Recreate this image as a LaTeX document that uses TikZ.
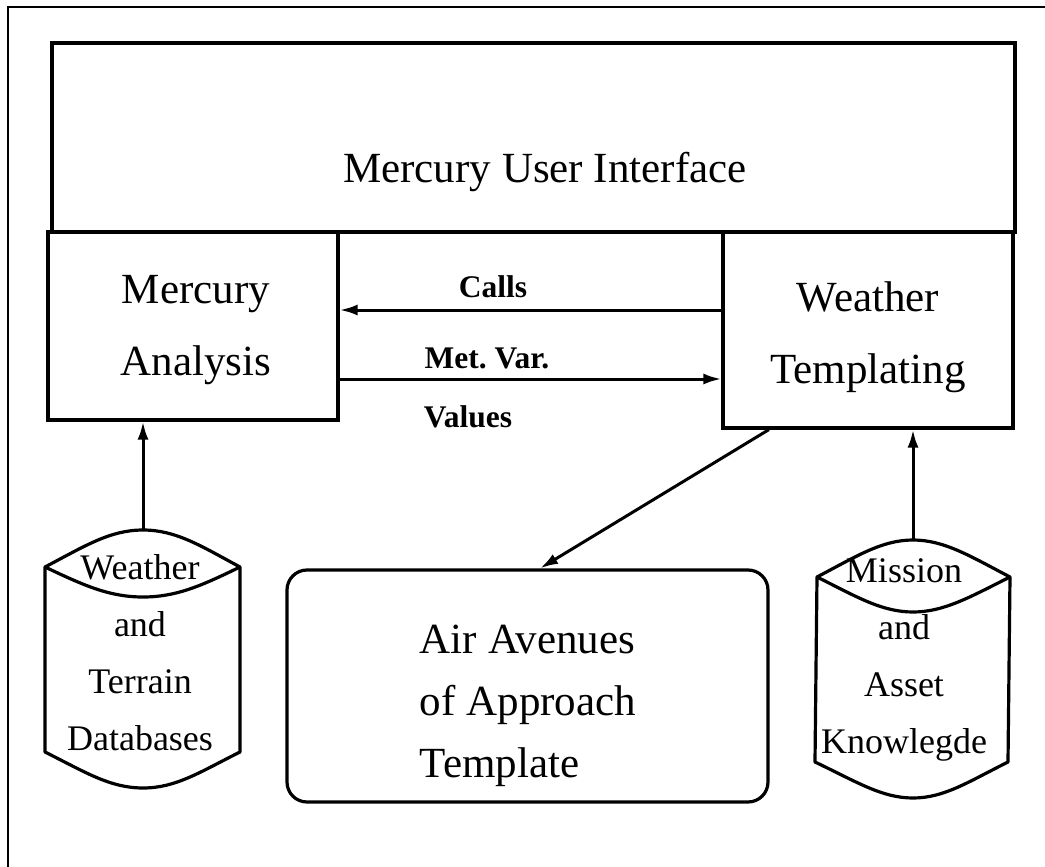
\documentclass[tikz,border=0pt]{standalone}
\usepackage{fontspec}
\setmainfont{Liberation Serif}
\usetikzlibrary{arrows.meta,calc}
\begin{document}
\begin{tikzpicture}[x=1pt,y=-1pt,
  box/.style={draw, line width=3.2pt, inner sep=0pt},
  cyl/.style={draw, line width=3.2pt, line join=round},
  bigtext/.style={font=\fontsize{43}{72}\selectfont, align=center, inner sep=0pt},
  dbtext/.style={font=\fontsize{36}{57}\selectfont, align=center, inner sep=0pt},
  lbl/.style={font=\fontsize{31.5}{36}\selectfont\bfseries, inner sep=0pt},
  arr/.style={line width=3pt, -{Latex[length=18pt,width=11pt]}}]
\useasboundingbox (0,0) rectangle (1045,867);

% outer frame
\draw[line width=2pt] (8,867) -- (8,7) -- (1045,7);

% main modules
\node[box, minimum width=963pt, minimum height=189pt] (ui) at (533.5,137.5) {};
\node[bigtext] (uitext) at (545,172) {Mercury User Interface};
\node[box, minimum width=290pt, minimum height=188pt] (ma) at (193,326) {};
\node[bigtext] (matext) at (196,330) {Mercury\\Analysis};
\node[box, minimum width=290pt, minimum height=196pt] (wt) at (868,330) {};
\node[bigtext] (wttext) at (868,337) {Weather\\Templating};

% output template
\node[box, rounded corners=20pt, minimum width=481pt, minimum height=232pt] (av) at (527.5,686) {};
\node[font=\fontsize{43}{62}\selectfont, align=left, inner sep=0pt] (avtext) at (528,706)
  {Air Avenues\\of Approach\\Template};

% left database
\coordinate (lpeak) at (143,530);
\draw[cyl] (45,567) .. controls (85,546) and (110,530) .. (lpeak)
  .. controls (176,530) and (201,546) .. (240,567) -- (240,752)
  .. controls (200,772) and (176,788) .. (143,788)
  .. controls (110,788) and (85,772) .. (45,752) -- cycle;
\draw[cyl] (45,567) .. controls (85,586) and (110,597) .. (143,597)
  .. controls (176,597) and (201,586) .. (240,567);
\node[dbtext] (ldb) at (140,653) {Weather\\and\\Terrain\\Databases};

% right database
\coordinate (rpeak) at (913,540);
\draw[cyl] (817,577) .. controls (857,556) and (882,540) .. (rpeak)
  .. controls (944,540) and (970,556) .. (1010,577) -- (1008,762)
  .. controls (968,782) and (944,798) .. (913,798)
  .. controls (882,798) and (857,782) .. (815,762) -- cycle;
\draw[cyl] (817,577) .. controls (857,597) and (882,612) .. (913,612)
  .. controls (944,612) and (970,597) .. (1010,577);
\node[dbtext] (rdb) at (904,660) {Mission\\and\\Asset\\Knowlegde};

% connectors
\draw[arr] (lpeak) -- (lpeak |- ma.south);
\draw[arr] (rpeak) -- (rpeak |- wt.south);
\coordinate (cy) at (0,310);
\coordinate (my) at (0,379);
\draw[arr] (wt.west |- cy) -- (ma.east |- cy);
\draw[arr] (ma.east |- my) -- (wt.west |- my);
\node[lbl] (calls) at (493,287) {Calls};
\node[lbl] (metvar) at (487,358) {Met.\ Var.};
\node[lbl] (values) at (468,417) {Values};
\draw[arr] ($(wt.south west)!0.162!(wt.south east)$) -- ($(av.north west)!0.526!(av.north east)$);
\end{tikzpicture}
\end{document}
